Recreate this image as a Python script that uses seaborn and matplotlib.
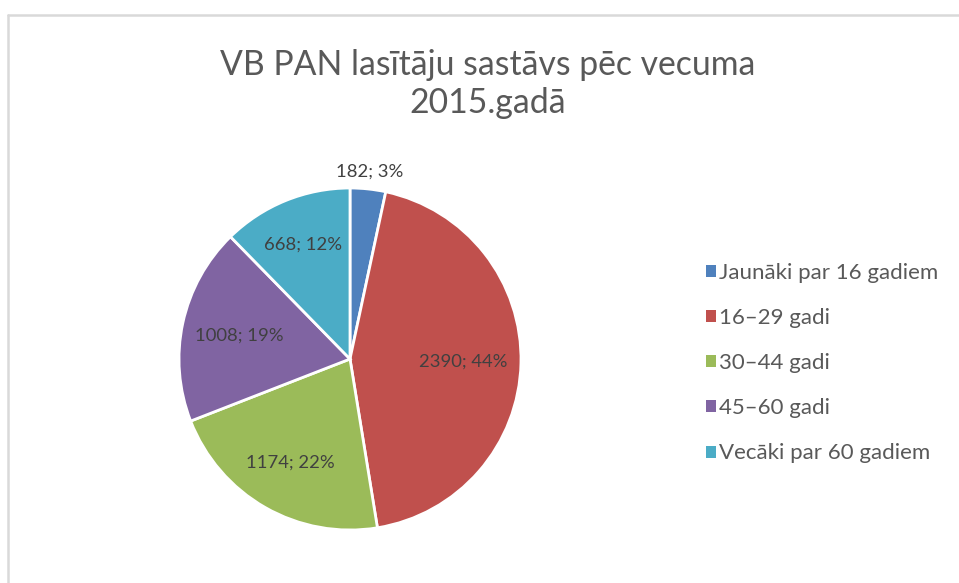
import matplotlib
matplotlib.use("Agg")
import matplotlib.pyplot as plt
import seaborn as sns
from matplotlib.lines import Line2D
from matplotlib.patches import Patch
import numpy as np

title = "VB PAN lasītāju sastāvs pēc vecuma\n2015.gadā"
categories = ["Jaunāki par 16 gadiem", "16–29 gadi", "30–44 gadi", "45–60 gadi", "Vecāki par 60 gadiem"]
values = [182, 2390, 1174, 1008, 668]
colors = ["#4F81BD", "#C0504D", "#9BBB59", "#8064A2", "#4BACC6"]
label_dist = [1.1, 0.66, 0.70, 0.66, 0.72]

sns.set_theme(style="white")
plt.rcParams["font.family"] = ["Lato", "DejaVu Sans"]

W, H = 959, 583
fig = plt.figure(figsize=(W / 100, H / 100), dpi=100)

# pie axes: center (350, 359) px, radius 171 px
cx, cy, r = 350, 359, 171
ax = fig.add_axes([(cx - r) / W, (H - cy - r) / H, 2 * r / W, 2 * r / H])
wedges, _ = ax.pie(values, colors=colors, startangle=90, counterclock=False,
                   wedgeprops=dict(edgecolor="white", linewidth=2))
ax.set_xlim(-1, 1)
ax.set_ylim(-1, 1)

total = sum(values)
for w, v, d in zip(wedges, values, label_dist):
    ang = np.deg2rad((w.theta1 + w.theta2) / 2)
    pct = round(v / total * 100)
    ax.text(d * np.cos(ang), d * np.sin(ang), f"{v}; {pct}%", ha="center", va="center",
            fontsize=13.3, color="#404040")

fig.text(488 / W, 1 - 84 / H, title, ha="center", va="center", fontsize=24.3,
         color="#595959", linespacing=1.25)

handles = [Patch(facecolor=c, edgecolor="none") for c in colors]
fig.legend(handles, categories, loc="upper left", bbox_to_anchor=(686 / W, 1 - 243 / H),
           frameon=False, fontsize=16, labelcolor="#595959", handlelength=0.45,
           handleheight=0.45, handletextpad=0.15, labelspacing=1.13)

# chart area border (top and left)
fig.add_artist(Line2D([8 / W, 1], [1 - 15 / H] * 2, color="#d9d9d9", lw=1.8, transform=fig.transFigure))
fig.add_artist(Line2D([8 / W] * 2, [0, 1 - 15 / H], color="#d9d9d9", lw=1.8, transform=fig.transFigure))

fig.savefig("out.png", dpi=100)
